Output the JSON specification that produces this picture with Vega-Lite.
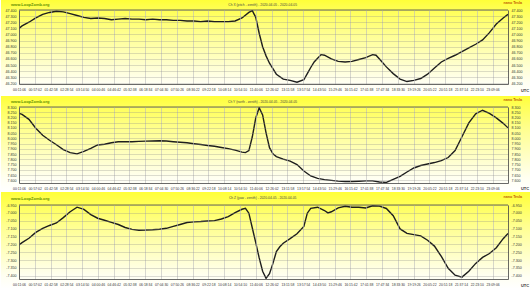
{
"$schema":"https://vega.github.io/schema/vega-lite/v6.json",
"padding":0,
"background":"#ffffff",
"spacing":0,
"config":{"view":{"stroke":null},"axis":{"zindex":1,"labelFont":"Liberation Sans","labelColor":"#333333","domainColor":"#444444","domainWidth":0.8},"text":{"font":"Liberation Sans"}},
"datasets":{
"chx":[{"t":"2020-04-05T00:11:06","v":47.10},{"t":"2020-04-05T00:20:00","v":47.14},{"t":"2020-04-05T00:40:00","v":47.20},{"t":"2020-04-05T01:00:00","v":47.27},{"t":"2020-04-05T01:20:00","v":47.33},{"t":"2020-04-05T01:40:00","v":47.36},{"t":"2020-04-05T02:00:00","v":47.38},{"t":"2020-04-05T02:20:00","v":47.37},{"t":"2020-04-05T02:40:00","v":47.34},{"t":"2020-04-05T03:00:00","v":47.31},{"t":"2020-04-05T03:20:00","v":47.28},{"t":"2020-04-05T03:40:00","v":47.26},{"t":"2020-04-05T04:00:00","v":47.27},{"t":"2020-04-05T04:20:00","v":47.26},{"t":"2020-04-05T04:40:00","v":47.24},{"t":"2020-04-05T05:00:00","v":47.25},{"t":"2020-04-05T05:20:00","v":47.26},{"t":"2020-04-05T05:40:00","v":47.25},{"t":"2020-04-05T06:00:00","v":47.25},{"t":"2020-04-05T06:20:00","v":47.24},{"t":"2020-04-05T06:40:00","v":47.25},{"t":"2020-04-05T07:00:00","v":47.24},{"t":"2020-04-05T07:20:00","v":47.24},{"t":"2020-04-05T07:40:00","v":47.23},{"t":"2020-04-05T08:00:00","v":47.23},{"t":"2020-04-05T08:20:00","v":47.22},{"t":"2020-04-05T08:40:00","v":47.22},{"t":"2020-04-05T09:00:00","v":47.21},{"t":"2020-04-05T09:20:00","v":47.22},{"t":"2020-04-05T09:40:00","v":47.21},{"t":"2020-04-05T10:00:00","v":47.21},{"t":"2020-04-05T10:20:00","v":47.21},{"t":"2020-04-05T10:40:00","v":47.22},{"t":"2020-04-05T11:00:00","v":47.27},{"t":"2020-04-05T11:20:00","v":47.36},{"t":"2020-04-05T11:30:00","v":47.39},{"t":"2020-04-05T11:40:00","v":47.28},{"t":"2020-04-05T11:50:00","v":47.02},{"t":"2020-04-05T12:00:00","v":46.80},{"t":"2020-04-05T12:10:00","v":46.65},{"t":"2020-04-05T12:20:00","v":46.53},{"t":"2020-04-05T12:40:00","v":46.35},{"t":"2020-04-05T13:00:00","v":46.27},{"t":"2020-04-05T13:20:00","v":46.25},{"t":"2020-04-05T13:40:00","v":46.22},{"t":"2020-04-05T14:00:00","v":46.26},{"t":"2020-04-05T14:10:00","v":46.36},{"t":"2020-04-05T14:20:00","v":46.46},{"t":"2020-04-05T14:30:00","v":46.55},{"t":"2020-04-05T14:40:00","v":46.61},{"t":"2020-04-05T14:50:00","v":46.67},{"t":"2020-04-05T15:00:00","v":46.66},{"t":"2020-04-05T15:20:00","v":46.60},{"t":"2020-04-05T15:40:00","v":46.56},{"t":"2020-04-05T16:00:00","v":46.55},{"t":"2020-04-05T16:20:00","v":46.56},{"t":"2020-04-05T16:40:00","v":46.59},{"t":"2020-04-05T17:00:00","v":46.62},{"t":"2020-04-05T17:20:00","v":46.67},{"t":"2020-04-05T17:30:00","v":46.66},{"t":"2020-04-05T17:40:00","v":46.60},{"t":"2020-04-05T18:00:00","v":46.47},{"t":"2020-04-05T18:20:00","v":46.36},{"t":"2020-04-05T18:40:00","v":46.27},{"t":"2020-04-05T19:00:00","v":46.23},{"t":"2020-04-05T19:20:00","v":46.25},{"t":"2020-04-05T19:40:00","v":46.28},{"t":"2020-04-05T20:00:00","v":46.35},{"t":"2020-04-05T20:20:00","v":46.45},{"t":"2020-04-05T20:40:00","v":46.55},{"t":"2020-04-05T21:00:00","v":46.61},{"t":"2020-04-05T21:20:00","v":46.66},{"t":"2020-04-05T21:40:00","v":46.72},{"t":"2020-04-05T22:00:00","v":46.78},{"t":"2020-04-05T22:20:00","v":46.84},{"t":"2020-04-05T22:40:00","v":46.91},{"t":"2020-04-05T23:00:00","v":47.03},{"t":"2020-04-05T23:20:00","v":47.17},{"t":"2020-04-05T23:40:00","v":47.27},{"t":"2020-04-05T23:54:00","v":47.33}],
"chy":[{"t":"2020-04-05T00:11:06","v":8.240},{"t":"2020-04-05T00:20:00","v":8.229},{"t":"2020-04-05T00:40:00","v":8.182},{"t":"2020-04-05T01:00:00","v":8.097},{"t":"2020-04-05T01:20:00","v":8.030},{"t":"2020-04-05T01:40:00","v":7.983},{"t":"2020-04-05T02:00:00","v":7.940},{"t":"2020-04-05T02:20:00","v":7.893},{"t":"2020-04-05T02:40:00","v":7.865},{"t":"2020-04-05T03:00:00","v":7.853},{"t":"2020-04-05T03:20:00","v":7.877},{"t":"2020-04-05T03:40:00","v":7.905},{"t":"2020-04-05T04:00:00","v":7.938},{"t":"2020-04-05T04:20:00","v":7.945},{"t":"2020-04-05T04:40:00","v":7.959},{"t":"2020-04-05T05:00:00","v":7.969},{"t":"2020-04-05T05:20:00","v":7.969},{"t":"2020-04-05T05:40:00","v":7.969},{"t":"2020-04-05T06:00:00","v":7.972},{"t":"2020-04-05T06:20:00","v":7.974},{"t":"2020-04-05T06:40:00","v":7.976},{"t":"2020-04-05T07:00:00","v":7.978},{"t":"2020-04-05T07:20:00","v":7.975},{"t":"2020-04-05T07:40:00","v":7.969},{"t":"2020-04-05T08:00:00","v":7.964},{"t":"2020-04-05T08:20:00","v":7.959},{"t":"2020-04-05T08:40:00","v":7.950},{"t":"2020-04-05T09:00:00","v":7.942},{"t":"2020-04-05T09:20:00","v":7.933},{"t":"2020-04-05T09:40:00","v":7.926},{"t":"2020-04-05T10:00:00","v":7.914},{"t":"2020-04-05T10:20:00","v":7.903},{"t":"2020-04-05T10:40:00","v":7.889},{"t":"2020-04-05T11:00:00","v":7.870},{"t":"2020-04-05T11:10:00","v":7.865},{"t":"2020-04-05T11:20:00","v":7.884},{"t":"2020-04-05T11:30:00","v":8.016},{"t":"2020-04-05T11:40:00","v":8.196},{"t":"2020-04-05T11:50:00","v":8.293},{"t":"2020-04-05T12:00:00","v":8.224},{"t":"2020-04-05T12:10:00","v":8.054},{"t":"2020-04-05T12:20:00","v":7.912},{"t":"2020-04-05T12:30:00","v":7.853},{"t":"2020-04-05T12:40:00","v":7.827},{"t":"2020-04-05T13:00:00","v":7.803},{"t":"2020-04-05T13:20:00","v":7.784},{"t":"2020-04-05T13:40:00","v":7.751},{"t":"2020-04-05T14:00:00","v":7.690},{"t":"2020-04-05T14:20:00","v":7.642},{"t":"2020-04-05T14:40:00","v":7.619},{"t":"2020-04-05T15:00:00","v":7.607},{"t":"2020-04-05T15:20:00","v":7.600},{"t":"2020-04-05T15:40:00","v":7.593},{"t":"2020-04-05T16:00:00","v":7.590},{"t":"2020-04-05T16:20:00","v":7.590},{"t":"2020-04-05T16:40:00","v":7.592},{"t":"2020-04-05T17:00:00","v":7.595},{"t":"2020-04-05T17:20:00","v":7.595},{"t":"2020-04-05T17:40:00","v":7.585},{"t":"2020-04-05T18:00:00","v":7.581},{"t":"2020-04-05T18:20:00","v":7.609},{"t":"2020-04-05T18:40:00","v":7.638},{"t":"2020-04-05T19:00:00","v":7.680},{"t":"2020-04-05T19:20:00","v":7.718},{"t":"2020-04-05T19:40:00","v":7.742},{"t":"2020-04-05T20:00:00","v":7.756},{"t":"2020-04-05T20:20:00","v":7.770},{"t":"2020-04-05T20:40:00","v":7.789},{"t":"2020-04-05T21:00:00","v":7.818},{"t":"2020-04-05T21:20:00","v":7.884},{"t":"2020-04-05T21:40:00","v":8.016},{"t":"2020-04-05T22:00:00","v":8.149},{"t":"2020-04-05T22:20:00","v":8.234},{"t":"2020-04-05T22:40:00","v":8.269},{"t":"2020-04-05T23:00:00","v":8.239},{"t":"2020-04-05T23:20:00","v":8.196},{"t":"2020-04-05T23:40:00","v":8.144},{"t":"2020-04-05T23:54:00","v":8.101}],
"chz":[{"t":"2020-04-05T00:11:06","v":-7.204},{"t":"2020-04-05T00:20:00","v":-7.189},{"t":"2020-04-05T00:40:00","v":-7.161},{"t":"2020-04-05T01:00:00","v":-7.124},{"t":"2020-04-05T01:20:00","v":-7.099},{"t":"2020-04-05T01:40:00","v":-7.080},{"t":"2020-04-05T02:00:00","v":-7.064},{"t":"2020-04-05T02:20:00","v":-7.030},{"t":"2020-04-05T02:40:00","v":-6.993},{"t":"2020-04-05T03:00:00","v":-6.964},{"t":"2020-04-05T03:20:00","v":-6.978},{"t":"2020-04-05T03:40:00","v":-7.011},{"t":"2020-04-05T04:00:00","v":-7.034},{"t":"2020-04-05T04:20:00","v":-7.047},{"t":"2020-04-05T04:40:00","v":-7.060},{"t":"2020-04-05T05:00:00","v":-7.074},{"t":"2020-04-05T05:20:00","v":-7.093},{"t":"2020-04-05T05:40:00","v":-7.105},{"t":"2020-04-05T06:00:00","v":-7.110},{"t":"2020-04-05T06:20:00","v":-7.109},{"t":"2020-04-05T06:40:00","v":-7.107},{"t":"2020-04-05T07:00:00","v":-7.104},{"t":"2020-04-05T07:20:00","v":-7.098},{"t":"2020-04-05T07:40:00","v":-7.086},{"t":"2020-04-05T08:00:00","v":-7.074},{"t":"2020-04-05T08:20:00","v":-7.061},{"t":"2020-04-05T08:40:00","v":-7.057},{"t":"2020-04-05T09:00:00","v":-7.055},{"t":"2020-04-05T09:20:00","v":-7.052},{"t":"2020-04-05T09:40:00","v":-7.049},{"t":"2020-04-05T10:00:00","v":-7.039},{"t":"2020-04-05T10:20:00","v":-7.024},{"t":"2020-04-05T10:40:00","v":-6.999},{"t":"2020-04-05T11:00:00","v":-6.977},{"t":"2020-04-05T11:10:00","v":-6.971},{"t":"2020-04-05T11:20:00","v":-7.002},{"t":"2020-04-05T11:30:00","v":-7.096},{"t":"2020-04-05T11:40:00","v":-7.189},{"t":"2020-04-05T11:50:00","v":-7.286},{"t":"2020-04-05T12:00:00","v":-7.371},{"t":"2020-04-05T12:10:00","v":-7.416},{"t":"2020-04-05T12:20:00","v":-7.386},{"t":"2020-04-05T12:30:00","v":-7.321},{"t":"2020-04-05T12:40:00","v":-7.246},{"t":"2020-04-05T12:50:00","v":-7.215},{"t":"2020-04-05T13:00:00","v":-7.193},{"t":"2020-04-05T13:20:00","v":-7.164},{"t":"2020-04-05T13:40:00","v":-7.133},{"t":"2020-04-05T14:00:00","v":-7.086},{"t":"2020-04-05T14:10:00","v":-7.002},{"t":"2020-04-05T14:20:00","v":-6.971},{"t":"2020-04-05T14:40:00","v":-6.964},{"t":"2020-04-05T15:00:00","v":-6.985},{"t":"2020-04-05T15:10:00","v":-7.000},{"t":"2020-04-05T15:20:00","v":-6.993},{"t":"2020-04-05T15:40:00","v":-6.968},{"t":"2020-04-05T16:00:00","v":-6.958},{"t":"2020-04-05T16:20:00","v":-6.964},{"t":"2020-04-05T16:40:00","v":-6.964},{"t":"2020-04-05T17:00:00","v":-6.969},{"t":"2020-04-05T17:20:00","v":-6.955},{"t":"2020-04-05T17:40:00","v":-6.957},{"t":"2020-04-05T18:00:00","v":-6.972},{"t":"2020-04-05T18:20:00","v":-7.018},{"t":"2020-04-05T18:40:00","v":-7.102},{"t":"2020-04-05T19:00:00","v":-7.130},{"t":"2020-04-05T19:20:00","v":-7.138},{"t":"2020-04-05T19:40:00","v":-7.146},{"t":"2020-04-05T20:00:00","v":-7.174},{"t":"2020-04-05T20:20:00","v":-7.211},{"t":"2020-04-05T20:40:00","v":-7.277},{"t":"2020-04-05T21:00:00","v":-7.352},{"t":"2020-04-05T21:20:00","v":-7.396},{"t":"2020-04-05T21:40:00","v":-7.408},{"t":"2020-04-05T22:00:00","v":-7.371},{"t":"2020-04-05T22:20:00","v":-7.321},{"t":"2020-04-05T22:40:00","v":-7.283},{"t":"2020-04-05T23:00:00","v":-7.258},{"t":"2020-04-05T23:20:00","v":-7.221},{"t":"2020-04-05T23:40:00","v":-7.164},{"t":"2020-04-05T23:54:00","v":-7.131}]
},
"vconcat":[
{"width":489,"height":74,
"layer":[
{"data":{"values":[{}]},"mark":{"type":"rect","clip":false,"fill":{"gradient":"linear","x1":0,"y1":0,"x2":0,"y2":1,"stops":[{"offset":0,"color":"#ffff38"},{"offset":0.1,"color":"#ffff55"},{"offset":0.35,"color":"#ffff90"},{"offset":0.65,"color":"#ffffc8"},{"offset":0.87,"color":"#fffff2"},{"offset":1,"color":"#ffffff"}]}},
"encoding":{"x":{"datum":{"year":2020,"month":4,"date":4,"hours":23,"minutes":18,"seconds":40},"type":"temporal","axis":null,"scale":{"domain":[{"year":2020,"month":4,"date":5,"hours":0,"minutes":11,"seconds":6},{"year":2020,"month":4,"date":5,"hours":23,"minutes":54}],"nice":false}},"x2":{"datum":{"year":2020,"month":4,"date":6,"hours":1,"minutes":1}},
"y":{"datum":47.5635,"type":"quantitative","scale":{"domain":[46.19,47.4],"nice":false,"zero":false},"axis":{"zindex":2,"orient":"right","values":[46.2,46.3,46.4,46.5,46.6,46.7,46.8,46.9,47.0,47.1,47.2,47.3,47.4],"labelExpr":"replace(format(datum.value,'.3f'),'\u2212','-')","title":null,"grid":false,"ticks":false,"labelFontSize":3.6,"labelPadding":3,"labelOverlap":false,"labelBound":false}},"y2":{"datum":46.01}}},
{"data":{"values":[{}]},"mark":{"type":"rule","color":"#444444","strokeWidth":0.8},"encoding":{"y":{"datum":47.4,"type":"quantitative","axis":null}}},
{"data":{"name":"chx"},"mark":{"type":"line","color":"#1e1e1e","strokeWidth":1.4,"clip":true},
"encoding":{"x":{"field":"t","type":"temporal","axis":{"zindex":2,"orient":"bottom","values":[{"year":2020,"month":4,"date":5,"hours":0,"minutes":11,"seconds":6},{"year":2020,"month":4,"date":5,"hours":0,"minutes":57,"seconds":2},{"year":2020,"month":4,"date":5,"hours":1,"minutes":42,"seconds":58},{"year":2020,"month":4,"date":5,"hours":2,"minutes":28,"seconds":54},{"year":2020,"month":4,"date":5,"hours":3,"minutes":14,"seconds":50},{"year":2020,"month":4,"date":5,"hours":4,"minutes":0,"seconds":46},{"year":2020,"month":4,"date":5,"hours":4,"minutes":46,"seconds":42},{"year":2020,"month":4,"date":5,"hours":5,"minutes":32,"seconds":38},{"year":2020,"month":4,"date":5,"hours":6,"minutes":18,"seconds":34},{"year":2020,"month":4,"date":5,"hours":7,"minutes":4,"seconds":30},{"year":2020,"month":4,"date":5,"hours":7,"minutes":50,"seconds":26},{"year":2020,"month":4,"date":5,"hours":8,"minutes":36,"seconds":22},{"year":2020,"month":4,"date":5,"hours":9,"minutes":22,"seconds":18},{"year":2020,"month":4,"date":5,"hours":10,"minutes":8,"seconds":14},{"year":2020,"month":4,"date":5,"hours":10,"minutes":54,"seconds":10},{"year":2020,"month":4,"date":5,"hours":11,"minutes":40,"seconds":6},{"year":2020,"month":4,"date":5,"hours":12,"minutes":26,"seconds":2},{"year":2020,"month":4,"date":5,"hours":13,"minutes":11,"seconds":58},{"year":2020,"month":4,"date":5,"hours":13,"minutes":57,"seconds":54},{"year":2020,"month":4,"date":5,"hours":14,"minutes":43,"seconds":50},{"year":2020,"month":4,"date":5,"hours":15,"minutes":29,"seconds":46},{"year":2020,"month":4,"date":5,"hours":16,"minutes":15,"seconds":42},{"year":2020,"month":4,"date":5,"hours":17,"minutes":1,"seconds":38},{"year":2020,"month":4,"date":5,"hours":17,"minutes":47,"seconds":34},{"year":2020,"month":4,"date":5,"hours":18,"minutes":33,"seconds":30},{"year":2020,"month":4,"date":5,"hours":19,"minutes":19,"seconds":26},{"year":2020,"month":4,"date":5,"hours":20,"minutes":5,"seconds":22},{"year":2020,"month":4,"date":5,"hours":20,"minutes":51,"seconds":18},{"year":2020,"month":4,"date":5,"hours":21,"minutes":37,"seconds":14},{"year":2020,"month":4,"date":5,"hours":22,"minutes":23,"seconds":10},{"year":2020,"month":4,"date":5,"hours":23,"minutes":9,"seconds":6}],"format":"%H:%M:%S","title":null,"grid":true,"gridColor":"#bcbcbc","gridWidth":0.6,"ticks":false,"labelFontSize":3.4,"labelPadding":3,"labelAngle":0,"labelOverlap":false,"labelFlush":false,"labelBound":false}},
"y":{"field":"v","type":"quantitative","axis":{"zindex":2,"orient":"left","values":[46.2,46.3,46.4,46.5,46.6,46.7,46.8,46.9,47.0,47.1,47.2,47.3,47.4],"labelExpr":"replace(format(datum.value,'.3f'),'\u2212','-')","title":null,"grid":true,"gridColor":"#8c8c8c","gridDash":[1,1],"gridWidth":0.6,"ticks":false,"labelFontSize":3.6,"labelPadding":3,"labelOverlap":false,"labelBound":false}}}},
{"data":{"values":[{}]},"mark":{"type":"text","align":"left","baseline":"middle","fontSize":4,"fontWeight":"bold","color":"#5f8f00","clip":false},"encoding":{"x":{"datum":{"year":2020,"month":4,"date":4,"hours":23,"minutes":47,"seconds":48},"type":"temporal","axis":null},"y":{"datum":47.482,"type":"quantitative","axis":null},"text":{"value":"www.LoopZomb.org"}}},
{"data":{"values":[{}]},"mark":{"type":"text","align":"center","baseline":"middle","fontSize":3.3,"color":"#444444","clip":false},"encoding":{"x":{"datum":{"year":2020,"month":4,"date":5,"hours":12,"minutes":0},"type":"temporal","axis":null},"y":{"datum":47.474,"type":"quantitative","axis":null},"text":{"value":"Ch X (pitch - zenith) - 2020-04-05 - 2020-04-05"}}},
{"data":{"values":[{}]},"mark":{"type":"text","align":"right","baseline":"middle","fontSize":3.6,"fontWeight":"bold","color":"#c05800","clip":false},"encoding":{"x":{"datum":{"year":2020,"month":4,"date":6,"hours":0,"minutes":35},"type":"temporal","axis":null},"y":{"datum":47.5226,"type":"quantitative","axis":null},"text":{"value":"nano Tesla"}}},
{"data":{"values":[{}]},"mark":{"type":"text","align":"center","baseline":"middle","fontSize":4,"fontWeight":"bold","color":"#333333","clip":false},"encoding":{"x":{"datum":{"year":2020,"month":4,"date":6,"hours":0,"minutes":43,"seconds":30},"type":"temporal","axis":null},"y":{"datum":46.0755,"type":"quantitative","axis":null},"text":{"value":"UTC"}}}
],
"resolve":{"axis":{"x":"independent","y":"independent"}}},
{"width":489,"height":76,
"layer":[
{"data":{"values":[{}]},"mark":{"type":"rect","clip":false,"fill":{"gradient":"linear","x1":0,"y1":0,"x2":0,"y2":1,"stops":[{"offset":0,"color":"#ffff38"},{"offset":0.1,"color":"#ffff55"},{"offset":0.35,"color":"#ffff90"},{"offset":0.65,"color":"#ffffc8"},{"offset":0.87,"color":"#fffff2"},{"offset":1,"color":"#ffffff"}]}},
"encoding":{"x":{"datum":{"year":2020,"month":4,"date":4,"hours":23,"minutes":18,"seconds":40},"type":"temporal","axis":null,"scale":{"domain":[{"year":2020,"month":4,"date":5,"hours":0,"minutes":11,"seconds":6},{"year":2020,"month":4,"date":5,"hours":23,"minutes":54}],"nice":false}},"x2":{"datum":{"year":2020,"month":4,"date":6,"hours":1,"minutes":1}},
"y":{"datum":8.4049,"type":"quantitative","scale":{"domain":[7.575,8.3],"nice":false,"zero":false},"axis":{"zindex":2,"orient":"right","values":[7.6,7.65,7.7,7.75,7.8,7.85,7.9,7.95,8.0,8.05,8.1,8.15,8.2,8.25,8.3],"labelExpr":"replace(format(datum.value,'.3f'),'\u2212','-')","title":null,"grid":false,"ticks":false,"labelFontSize":3.6,"labelPadding":3,"labelOverlap":false,"labelBound":false}},"y2":{"datum":7.4987}}},
{"data":{"values":[{}]},"mark":{"type":"rule","color":"#444444","strokeWidth":0.8},"encoding":{"y":{"datum":8.3,"type":"quantitative","axis":null}}},
{"data":{"name":"chy"},"mark":{"type":"line","color":"#1e1e1e","strokeWidth":1.4,"clip":true},
"encoding":{"x":{"field":"t","type":"temporal","axis":{"zindex":2,"orient":"bottom","values":[{"year":2020,"month":4,"date":5,"hours":0,"minutes":11,"seconds":6},{"year":2020,"month":4,"date":5,"hours":0,"minutes":57,"seconds":2},{"year":2020,"month":4,"date":5,"hours":1,"minutes":42,"seconds":58},{"year":2020,"month":4,"date":5,"hours":2,"minutes":28,"seconds":54},{"year":2020,"month":4,"date":5,"hours":3,"minutes":14,"seconds":50},{"year":2020,"month":4,"date":5,"hours":4,"minutes":0,"seconds":46},{"year":2020,"month":4,"date":5,"hours":4,"minutes":46,"seconds":42},{"year":2020,"month":4,"date":5,"hours":5,"minutes":32,"seconds":38},{"year":2020,"month":4,"date":5,"hours":6,"minutes":18,"seconds":34},{"year":2020,"month":4,"date":5,"hours":7,"minutes":4,"seconds":30},{"year":2020,"month":4,"date":5,"hours":7,"minutes":50,"seconds":26},{"year":2020,"month":4,"date":5,"hours":8,"minutes":36,"seconds":22},{"year":2020,"month":4,"date":5,"hours":9,"minutes":22,"seconds":18},{"year":2020,"month":4,"date":5,"hours":10,"minutes":8,"seconds":14},{"year":2020,"month":4,"date":5,"hours":10,"minutes":54,"seconds":10},{"year":2020,"month":4,"date":5,"hours":11,"minutes":40,"seconds":6},{"year":2020,"month":4,"date":5,"hours":12,"minutes":26,"seconds":2},{"year":2020,"month":4,"date":5,"hours":13,"minutes":11,"seconds":58},{"year":2020,"month":4,"date":5,"hours":13,"minutes":57,"seconds":54},{"year":2020,"month":4,"date":5,"hours":14,"minutes":43,"seconds":50},{"year":2020,"month":4,"date":5,"hours":15,"minutes":29,"seconds":46},{"year":2020,"month":4,"date":5,"hours":16,"minutes":15,"seconds":42},{"year":2020,"month":4,"date":5,"hours":17,"minutes":1,"seconds":38},{"year":2020,"month":4,"date":5,"hours":17,"minutes":47,"seconds":34},{"year":2020,"month":4,"date":5,"hours":18,"minutes":33,"seconds":30},{"year":2020,"month":4,"date":5,"hours":19,"minutes":19,"seconds":26},{"year":2020,"month":4,"date":5,"hours":20,"minutes":5,"seconds":22},{"year":2020,"month":4,"date":5,"hours":20,"minutes":51,"seconds":18},{"year":2020,"month":4,"date":5,"hours":21,"minutes":37,"seconds":14},{"year":2020,"month":4,"date":5,"hours":22,"minutes":23,"seconds":10},{"year":2020,"month":4,"date":5,"hours":23,"minutes":9,"seconds":6}],"format":"%H:%M:%S","title":null,"grid":true,"gridColor":"#bcbcbc","gridWidth":0.6,"ticks":false,"labelFontSize":3.4,"labelPadding":3,"labelAngle":0,"labelOverlap":false,"labelFlush":false,"labelBound":false}},
"y":{"field":"v","type":"quantitative","axis":{"zindex":2,"orient":"left","values":[7.6,7.65,7.7,7.75,7.8,7.85,7.9,7.95,8.0,8.05,8.1,8.15,8.2,8.25,8.3],"labelExpr":"replace(format(datum.value,'.3f'),'\u2212','-')","title":null,"grid":true,"gridColor":"#8c8c8c","gridDash":[1,1],"gridWidth":0.6,"ticks":false,"labelFontSize":3.6,"labelPadding":3,"labelOverlap":false,"labelBound":false}}}},
{"data":{"values":[{}]},"mark":{"type":"text","align":"left","baseline":"middle","fontSize":4,"fontWeight":"bold","color":"#5f8f00","clip":false},"encoding":{"x":{"datum":{"year":2020,"month":4,"date":4,"hours":23,"minutes":47,"seconds":48},"type":"temporal","axis":null},"y":{"datum":8.3477,"type":"quantitative","axis":null},"text":{"value":"www.LoopZomb.org"}}},
{"data":{"values":[{}]},"mark":{"type":"text","align":"center","baseline":"middle","fontSize":3.3,"color":"#444444","clip":false},"encoding":{"x":{"datum":{"year":2020,"month":4,"date":5,"hours":12,"minutes":0},"type":"temporal","axis":null},"y":{"datum":8.3477,"type":"quantitative","axis":null},"text":{"value":"Ch Y (north - zenith) - 2020-04-05 - 2020-04-05"}}},
{"data":{"values":[{}]},"mark":{"type":"text","align":"right","baseline":"middle","fontSize":3.6,"fontWeight":"bold","color":"#c05800","clip":false},"encoding":{"x":{"datum":{"year":2020,"month":4,"date":6,"hours":0,"minutes":35},"type":"temporal","axis":null},"y":{"datum":8.3715,"type":"quantitative","axis":null},"text":{"value":"nano Tesla"}}},
{"data":{"values":[{}]},"mark":{"type":"text","align":"center","baseline":"middle","fontSize":4,"fontWeight":"bold","color":"#333333","clip":false},"encoding":{"x":{"datum":{"year":2020,"month":4,"date":6,"hours":0,"minutes":43,"seconds":30},"type":"temporal","axis":null},"y":{"datum":7.5178,"type":"quantitative","axis":null},"text":{"value":"UTC"}}}
],
"resolve":{"axis":{"x":"independent","y":"independent"}}},
{"width":489,"height":74,
"layer":[
{"data":{"values":[{}]},"mark":{"type":"rect","clip":false,"fill":{"gradient":"linear","x1":0,"y1":0,"x2":0,"y2":1,"stops":[{"offset":0,"color":"#ffff38"},{"offset":0.12,"color":"#ffff55"},{"offset":0.35,"color":"#ffff90"},{"offset":0.65,"color":"#ffffc8"},{"offset":0.87,"color":"#fffff2"},{"offset":1,"color":"#ffffff"}]}},
"encoding":{"x":{"datum":{"year":2020,"month":4,"date":4,"hours":23,"minutes":18,"seconds":40},"type":"temporal","axis":null,"scale":{"domain":[{"year":2020,"month":4,"date":5,"hours":0,"minutes":11,"seconds":6},{"year":2020,"month":4,"date":5,"hours":23,"minutes":54}],"nice":false}},"x2":{"datum":{"year":2020,"month":4,"date":6,"hours":1,"minutes":1}},
"y":{"datum":-6.8674,"type":"quantitative","scale":{"domain":[-7.42,-6.95],"nice":false,"zero":false},"axis":{"zindex":2,"orient":"right","values":[-7.4,-7.35,-7.3,-7.25,-7.2,-7.15,-7.1,-7.05,-7.0,-6.95],"labelExpr":"replace(format(datum.value,'.3f'),'\u2212','-')","title":null,"grid":false,"ticks":false,"labelFontSize":3.6,"labelPadding":3,"labelOverlap":false,"labelBound":false}},"y2":{"datum":-7.4835}}},
{"data":{"values":[{}]},"mark":{"type":"rule","color":"#444444","strokeWidth":0.8},"encoding":{"y":{"datum":-6.95,"type":"quantitative","axis":null}}},
{"data":{"name":"chz"},"mark":{"type":"line","color":"#1e1e1e","strokeWidth":1.4,"clip":true},
"encoding":{"x":{"field":"t","type":"temporal","axis":{"zindex":2,"orient":"bottom","values":[{"year":2020,"month":4,"date":5,"hours":0,"minutes":11,"seconds":6},{"year":2020,"month":4,"date":5,"hours":0,"minutes":57,"seconds":2},{"year":2020,"month":4,"date":5,"hours":1,"minutes":42,"seconds":58},{"year":2020,"month":4,"date":5,"hours":2,"minutes":28,"seconds":54},{"year":2020,"month":4,"date":5,"hours":3,"minutes":14,"seconds":50},{"year":2020,"month":4,"date":5,"hours":4,"minutes":0,"seconds":46},{"year":2020,"month":4,"date":5,"hours":4,"minutes":46,"seconds":42},{"year":2020,"month":4,"date":5,"hours":5,"minutes":32,"seconds":38},{"year":2020,"month":4,"date":5,"hours":6,"minutes":18,"seconds":34},{"year":2020,"month":4,"date":5,"hours":7,"minutes":4,"seconds":30},{"year":2020,"month":4,"date":5,"hours":7,"minutes":50,"seconds":26},{"year":2020,"month":4,"date":5,"hours":8,"minutes":36,"seconds":22},{"year":2020,"month":4,"date":5,"hours":9,"minutes":22,"seconds":18},{"year":2020,"month":4,"date":5,"hours":10,"minutes":8,"seconds":14},{"year":2020,"month":4,"date":5,"hours":10,"minutes":54,"seconds":10},{"year":2020,"month":4,"date":5,"hours":11,"minutes":40,"seconds":6},{"year":2020,"month":4,"date":5,"hours":12,"minutes":26,"seconds":2},{"year":2020,"month":4,"date":5,"hours":13,"minutes":11,"seconds":58},{"year":2020,"month":4,"date":5,"hours":13,"minutes":57,"seconds":54},{"year":2020,"month":4,"date":5,"hours":14,"minutes":43,"seconds":50},{"year":2020,"month":4,"date":5,"hours":15,"minutes":29,"seconds":46},{"year":2020,"month":4,"date":5,"hours":16,"minutes":15,"seconds":42},{"year":2020,"month":4,"date":5,"hours":17,"minutes":1,"seconds":38},{"year":2020,"month":4,"date":5,"hours":17,"minutes":47,"seconds":34},{"year":2020,"month":4,"date":5,"hours":18,"minutes":33,"seconds":30},{"year":2020,"month":4,"date":5,"hours":19,"minutes":19,"seconds":26},{"year":2020,"month":4,"date":5,"hours":20,"minutes":5,"seconds":22},{"year":2020,"month":4,"date":5,"hours":20,"minutes":51,"seconds":18},{"year":2020,"month":4,"date":5,"hours":21,"minutes":37,"seconds":14},{"year":2020,"month":4,"date":5,"hours":22,"minutes":23,"seconds":10},{"year":2020,"month":4,"date":5,"hours":23,"minutes":9,"seconds":6}],"format":"%H:%M:%S","title":null,"grid":true,"gridColor":"#bcbcbc","gridWidth":0.6,"ticks":false,"labelFontSize":3.4,"labelPadding":3,"labelAngle":0,"labelOverlap":false,"labelFlush":false,"labelBound":false}},
"y":{"field":"v","type":"quantitative","axis":{"zindex":2,"orient":"left","values":[-7.4,-7.35,-7.3,-7.25,-7.2,-7.15,-7.1,-7.05,-7.0,-6.95],"labelExpr":"replace(format(datum.value,'.3f'),'\u2212','-')","title":null,"grid":true,"gridColor":"#8c8c8c","gridDash":[1,1],"gridWidth":0.6,"ticks":false,"labelFontSize":3.6,"labelPadding":3,"labelOverlap":false,"labelBound":false}}}},
{"data":{"values":[{}]},"mark":{"type":"text","align":"left","baseline":"middle","fontSize":4,"fontWeight":"bold","color":"#5f8f00","clip":false},"encoding":{"x":{"datum":{"year":2020,"month":4,"date":4,"hours":23,"minutes":47,"seconds":48},"type":"temporal","axis":null},"y":{"datum":-6.910,"type":"quantitative","axis":null},"text":{"value":"www.LoopZomb.org"}}},
{"data":{"values":[{}]},"mark":{"type":"text","align":"center","baseline":"middle","fontSize":3.3,"color":"#444444","clip":false},"encoding":{"x":{"datum":{"year":2020,"month":4,"date":5,"hours":12,"minutes":0},"type":"temporal","axis":null},"y":{"datum":-6.9055,"type":"quantitative","axis":null},"text":{"value":"Ch Z (yaw - zenith) - 2020-04-05 - 2020-04-05"}}},
{"data":{"values":[{}]},"mark":{"type":"text","align":"right","baseline":"middle","fontSize":3.6,"fontWeight":"bold","color":"#c05800","clip":false},"encoding":{"x":{"datum":{"year":2020,"month":4,"date":6,"hours":0,"minutes":35},"type":"temporal","axis":null},"y":{"datum":-6.897,"type":"quantitative","axis":null},"text":{"value":"nano Tesla"}}},
{"data":{"values":[{}]},"mark":{"type":"text","align":"center","baseline":"middle","fontSize":4,"fontWeight":"bold","color":"#333333","clip":false},"encoding":{"x":{"datum":{"year":2020,"month":4,"date":6,"hours":0,"minutes":43,"seconds":30},"type":"temporal","axis":null},"y":{"datum":-7.4645,"type":"quantitative","axis":null},"text":{"value":"UTC"}}}
],
"resolve":{"axis":{"x":"independent","y":"independent"}}}
]
}
